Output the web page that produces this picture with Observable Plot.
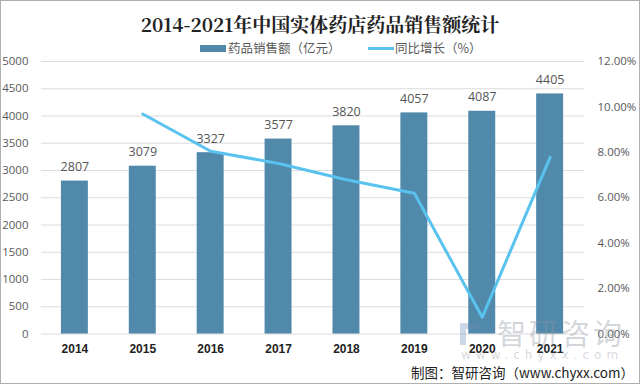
<!DOCTYPE html>
<html>
<head>
<meta charset="utf-8">
<script src="https://cdn.jsdelivr.net/npm/d3@7"></script>
<script src="https://cdn.jsdelivr.net/npm/@observablehq/plot@0.6"></script>
<style>
  html, body { margin: 0; padding: 0; background: #fff; }
  #wrap { position: relative; width: 640px; height: 384px; box-sizing: border-box; border: 1px solid #b0b0b0; overflow: hidden; font-family: "Noto Sans CJK SC", sans-serif; }
  #title { position: absolute; left: 0; top: 9px; width: 638px; text-align: center; font-size: 19px; font-weight: bold; color: #222; line-height: 28px; font-family: "Noto Serif CJK SC", "Noto Sans CJK SC", serif; }
  #legend { position: absolute; left: 0; top: 38px; width: 638px; height: 18px; font-size: 12.5px; color: #595959; line-height: 18px; }
  .lg { position: absolute; top: 0; white-space: nowrap; }
  #chart { position: absolute; left: -1px; top: 51px; }
  #caption { position: absolute; left: 410px; top: 361px; font-size: 13.5px; color: #222; white-space: nowrap; line-height: 20px; }
  #wm { position: absolute; left: 459px; top: 318px; color: rgba(140,150,160,0.38); pointer-events: none; white-space: nowrap; }
</style>
</head>
<body>
<div id="wrap">
  <div id="title">2014-2021年中国实体药店药品销售额统计</div>
  <div id="legend"></div>
  <div id="chart"></div>
  <div id="wm">
    <div style="position:absolute;left:0;top:4px;width:20px;height:22px;border-left:6px solid rgba(110,140,185,0.35);border-top:6px solid rgba(110,140,185,0.35);box-sizing:border-box;"></div>
    <div style="position:absolute;left:37px;top:-4px;font-size:29px;letter-spacing:3px;line-height:34px;">智研咨询</div>
    <div style="position:absolute;left:1px;top:29px;font-size:12px;letter-spacing:5px;font-family:'DejaVu Sans';line-height:14px;">www.chyxx.com</div>
  </div>
  <div id="caption">制图：智研咨询（www.chyxx.com）</div>
</div>
<script>
const years = ["2014","2015","2016","2017","2018","2019","2020","2021"];
const sales = [2807, 3079, 3327, 3577, 3820, 4057, 4087, 4405];
const growthYears = ["2015","2016","2017","2018","2019","2020","2021"];
const growth = [9.69, 8.05, 7.51, 6.79, 6.20, 0.74, 7.78];
const leftTicks = [0,500,1000,1500,2000,2500,3000,3500,4000,4500,5000];
const rightTicks = [0,2,4,6,8,10,12];
const seriesNames = ["药品销售额（亿元）", "同比增长（%）"];

const barColor = "#5189aa";
const lineColor = "#5ac2ee";
const yMax = 5000, pMax = 12;

const bars = years.map((y, i) => ({year: y, value: sales[i]}));
const line = growthYears.map((y, i) => ({year: y, pct: growth[i], yv: growth[i] / pMax * yMax}));

const plot = Plot.plot({
  width: 640,
  height: 310,
  marginLeft: 41,
  marginRight: 55,
  marginTop: 9,
  marginBottom: 28,
  style: {fontFamily: "'Open Sans', sans-serif", fontSize: "11.5px", color: "#595959", background: "transparent"},
  x: {domain: years, paddingInner: 0.6, paddingOuter: 0.28, label: null},
  y: {domain: [0, yMax], label: null},
  marks: [
    Plot.gridY(leftTicks, {stroke: "#dcdcdc", strokeOpacity: 1, strokeWidth: 1}),
    Plot.axisY(leftTicks, {anchor: "left", tickSize: 0, tickPadding: 13, label: null, fill: "#595959", tickFormat: d => String(d)}),
    Plot.axisY(rightTicks.map(p => p / pMax * yMax), {anchor: "right", tickSize: 0, tickPadding: 13, textAnchor: "start", label: null, fill: "#595959",
      tickFormat: v => (v / yMax * pMax).toFixed(2) + "%"}),
    Plot.axisX({anchor: "bottom", tickSize: 0, tickPadding: 10, label: null, fontWeight: "bold", fill: "#222", fontSize: 12, fontFamily: "'Liberation Sans', sans-serif"}),
    Plot.barY(bars, {x: "year", y: "value", fill: barColor}),
    Plot.text(bars, {x: "year", y: "value", text: d => String(d.value), dy: -14, fill: "#555", fontSize: 12.5, fontFamily: "'Open Sans', sans-serif"}),
    Plot.line(line, {x: "year", y: "yv", stroke: lineColor, strokeWidth: 3, curve: "linear"})
  ]
});
document.getElementById("chart").appendChild(plot);

// Legend built from series names
const lg = document.getElementById("legend");
const items = [
  {left: 199, swatch: `<span style="display:inline-block;width:26px;height:7px;background:${barColor};vertical-align:middle;margin-right:2px;position:relative;top:-1px"></span>`},
  {left: 367, swatch: `<span style="display:inline-block;width:26px;height:3px;background:${lineColor};vertical-align:middle;margin-right:1px;position:relative;top:-1px"></span>`}
];
items.forEach((it, i) => {
  const d = document.createElement("div");
  d.className = "lg";
  d.style.left = it.left + "px";
  d.innerHTML = it.swatch + seriesNames[i];
  lg.appendChild(d);
});
</script>
</body>
</html>
